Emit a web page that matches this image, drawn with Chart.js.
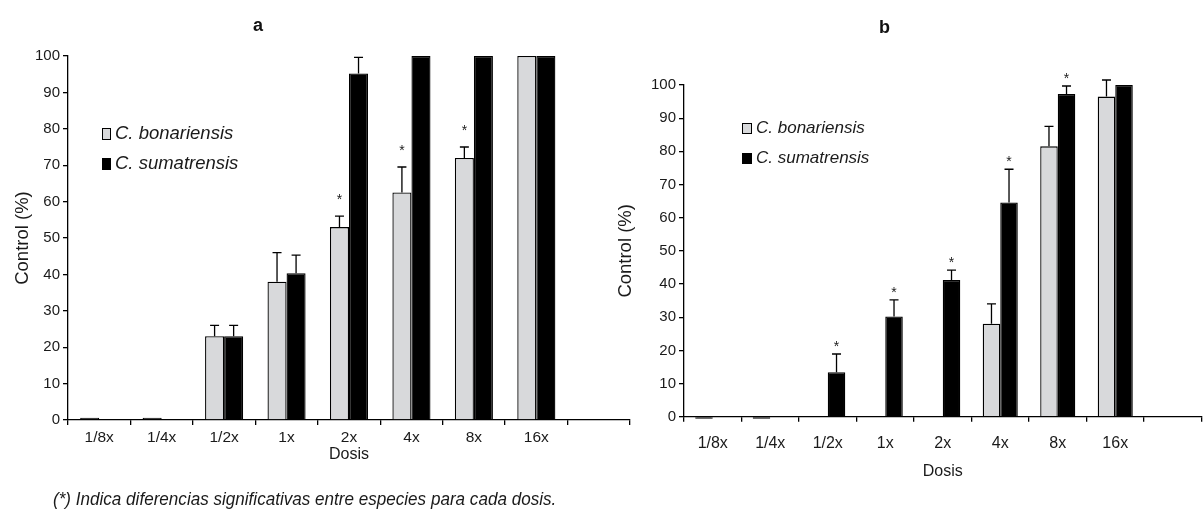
<!DOCTYPE html>
<html>
<head>
<meta charset="utf-8">
<script src="https://cdn.jsdelivr.net/npm/chart.js@4.4.1/dist/chart.umd.min.js"></script>
<style>
html, body { margin: 0; padding: 0; background: #fff; }
#wrap { position: relative; width: 1203px; height: 509px; overflow: hidden; font-family: "Liberation Sans", Arial, sans-serif; }
canvas { position: absolute; top: 0; }
#chartA { left: 0; }
#chartB { left: 603px; }
.panel { position: absolute; font-weight: bold; font-size: 18px; color: #111; }
#note { position: absolute; left: 53px; top: 489px; white-space: nowrap; transform-origin: 0 0; color: #1a1a1a;
  font-family: "Liberation Sans Narrow", "Liberation Sans", sans-serif; font-style: italic; font-size: 18px; }
</style>
</head>
<body>
<div id="wrap">
  <canvas id="chartA" width="640" height="509"></canvas>
  <canvas id="chartB" width="600" height="509"></canvas>
  <div class="panel" style="left:253px;top:15px;">a</div>
  <div class="panel" style="left:879px;top:17px;">b</div>
  <div id="note">(*) Indica diferencias significativas entre especies para cada dosis.</div>
</div>
<script>
// dose categories (last one is an empty slot, as in the original axis)
const doses = ['1/8x', '1/4x', '1/2x', '1x', '2x', '4x', '8x', '16x', ''];
const species = ['C. bonariensis', 'C. sumatrensis'];

// panel a
const bonA = [0.6, 0.6, 23, 38, 53, 62.5, 72, 100, null];
const bonAErr = [0, 0, 3, 8, 3, 7, 3, 0, null];
const sumA = [0, 0, 23, 40.3, 95.2, 100, 100, 100, null];
const sumAErr = [0, 0, 3, 5, 4.4, 0, 0, 0, null];
const starA = [0, 0, 0, 0, 1, 1, 1, 0, 0];   // drawn over C. bonariensis

// panel b
const bonB = [-0.6, -0.6, 0, 0, 0, 28, 81.5, 96.5, null];
const bonBErr = [0, 0, 0, 0, 0, 6, 6, 5, null];
const sumB = [0, 0, 13.4, 30.2, 41.2, 64.6, 97.3, 100, null];
const sumBErr = [0, 0, 5.5, 5, 3, 10, 2.4, 0, null];
const starB = [0, 0, 1, 1, 1, 1, 1, 0, 0];   // drawn over C. sumatrensis

const yTicks = { min: 0, max: 100, step: 10 };

const FONT = '"Liberation Sans", Arial, sans-serif';
const GREY = '#d8d9db';
const INK = '#1a1a1a';

// near-zero bars only show as a dark dash in the figure
const greyFill = c => (Math.abs(c.raw) < 1 ? '#000' : GREY);

const errorBars = {
  id: 'errorBars',
  afterDatasetsDraw(chart, args, opts) {
    const ctx = chart.ctx, y = chart.scales.y;
    ctx.save();
    ctx.strokeStyle = '#000';
    ctx.lineWidth = opts.width;
    chart.data.datasets.forEach((ds, i) => {
      const errs = opts.errors[i];
      chart.getDatasetMeta(i).data.forEach((bar, j) => {
        const e = errs[j];
        if (!e) return;
        const top = y.getPixelForValue(ds.data[j] + e);
        ctx.beginPath();
        ctx.moveTo(bar.x, bar.y);
        ctx.lineTo(bar.x, top);
        ctx.moveTo(bar.x - opts.cap / 2, top);
        ctx.lineTo(bar.x + opts.cap / 2, top);
        ctx.stroke();
      });
    });
    // significance stars
    const st = opts.stars;
    const ds = chart.data.datasets[st.dataset];
    const meta = chart.getDatasetMeta(st.dataset);
    ctx.fillStyle = INK;
    ctx.font = st.size + 'px ' + FONT;
    ctx.textAlign = 'center';
    ctx.textBaseline = 'alphabetic';
    st.flags.forEach((f, j) => {
      if (!f) return;
      const top = y.getPixelForValue(ds.data[j] + (opts.errors[st.dataset][j] || 0));
      ctx.fillText('*', meta.data[j].x, top - st.gap + st.size * 0.58);
    });
    ctx.restore();
  }
};

const boxLegend = {
  id: 'boxLegend',
  afterDraw(chart, args, opts) {
    const ctx = chart.ctx, area = chart.chartArea;
    ctx.save();
    ctx.font = 'italic ' + opts.size + 'px ' + FONT;
    ctx.textBaseline = 'middle';
    ctx.textAlign = 'left';
    chart.data.datasets.forEach((ds, i) => {
      const x = area.left + opts.dx;
      const y = area.top + opts.dy + i * opts.row;
      ctx.fillStyle = opts.colors[i];
      ctx.fillRect(x, y, opts.box[0], opts.box[1]);
      ctx.strokeStyle = '#000';
      ctx.lineWidth = 1;
      ctx.strokeRect(x + 0.5, y + 0.5, opts.box[0] - 1, opts.box[1] - 1);
      ctx.fillStyle = INK;
      ctx.fillText(ds.label, x + opts.box[0] + 4, y + opts.box[1] / 2);
    });
    ctx.restore();
  }
};

function buildChart(id, s) {
  return new Chart(document.getElementById(id), {
    type: 'bar',
    data: {
      labels: doses,
      datasets: [
        { label: species[0], data: s.bon, backgroundColor: greyFill, borderColor: '#000', borderWidth: 1.3, clip: false },
        { label: species[1], data: s.sum, backgroundColor: '#000', borderColor: '#000', borderWidth: 1.3, clip: false }
      ]
    },
    options: {
      responsive: false,
      animation: false,
      events: [],
      layout: { padding: s.padding },
      categoryPercentage: 0.61,
      barPercentage: 1,
      plugins: {
        legend: { display: false },
        tooltip: { enabled: false },
        errorBars: { errors: [s.bonErr, s.sumErr], cap: 9, width: 1.3, stars: s.stars },
        boxLegend: Object.assign({ colors: [GREY, '#000'] }, s.legend)
      },
      scales: {
        x: {
          grid: { drawOnChartArea: false, tickLength: 5, color: '#000', lineWidth: 1.3 },
          border: { color: '#000', width: 1.3 },
          ticks: { color: INK, font: { family: FONT, size: s.xFont }, padding: s.xPad, maxRotation: 0, autoSkip: false },
          title: { display: true, text: 'Dosis', color: INK, font: { family: FONT, size: 16 }, padding: { top: 0, bottom: 1 } },
          afterFit: sc => { sc.height = s.xHeight; }
        },
        y: {
          min: yTicks.min, max: yTicks.max,
          grid: { drawOnChartArea: false, tickLength: 5, color: '#000', lineWidth: 1.3 },
          border: { color: '#000', width: 1.3 },
          ticks: { stepSize: yTicks.step, color: INK, font: { family: FONT, size: 15 }, padding: 3 },
          title: { display: true, text: 'Control (%)', color: INK, font: { family: FONT, size: 18.5 }, padding: { top: 12, bottom: 0 } },
          afterFit: sc => { sc.width = s.yWidth; }
        }
      }
    },
    plugins: [errorBars, boxLegend]
  });
}

const chartA = buildChart('chartA', {
  bon: bonA, sum: sumA, bonErr: bonAErr, sumErr: sumAErr,
  padding: { left: 0, top: 56, right: 10, bottom: 44 },
  yWidth: 68, xHeight: 45, xFont: 15.5, xPad: 3,
  stars: { flags: starA, dataset: 0, gap: 20, size: 14 },
  legend: { dx: 34, dy: 72, row: 30, box: [9, 12], size: 18.5 }
});

const chartB = buildChart('chartB', {
  bon: bonB, sum: sumB, bonErr: bonBErr, sumErr: sumBErr,
  padding: { left: 0, top: 85, right: 1.5, bottom: 27.3 },
  yWidth: 81, xHeight: 65, xFont: 16, xPad: 12,
  stars: { flags: starB, dataset: 1, gap: 11, size: 14 },
  legend: { dx: 58, dy: 38, row: 30, box: [10, 11], size: 17 }
});

// squeeze the footnote to the width it has in the figure
const note = document.getElementById('note');
note.style.transform = 'scaleX(' + (503 / note.scrollWidth) + ')';
</script>
</body>
</html>
